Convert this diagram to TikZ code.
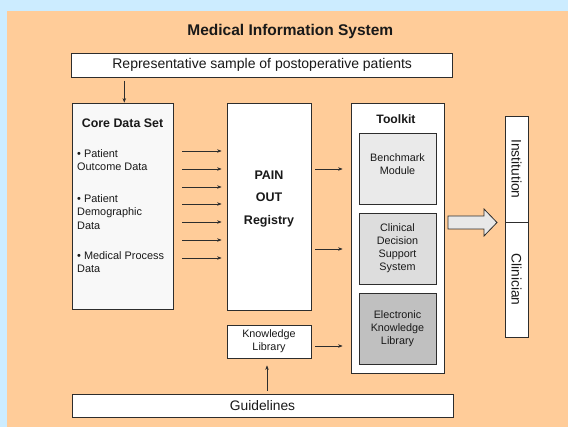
\documentclass[tikz,border=0pt]{standalone}
\usepackage{fontspec}
\setmainfont{Liberation Sans}
\usetikzlibrary{arrows.meta}
\definecolor{bgblue}{RGB}{204,236,255}
\definecolor{panel}{RGB}{255,204,153}
\definecolor{edge}{RGB}{45,45,45}
\definecolor{txt}{RGB}{25,25,25}
\definecolor{coregray}{RGB}{248,248,248}
\definecolor{benchgray}{RGB}{234,234,234}
\definecolor{clingray}{RGB}{221,221,221}
\definecolor{ekgray}{RGB}{192,192,192}
\definecolor{arrowfill}{RGB}{232,232,232}
\begin{document}
\begin{tikzpicture}[x=1pt,y=-1pt,
  box/.style={draw=edge, line width=0.8pt, fill=white, inner sep=0pt, rectangle},
  arr/.style={-{Stealth[length=4.5pt,width=3.5pt]}, line width=0.6pt, draw=edge},
  small/.style={font=\fontsize{10.8}{13}\selectfont, text=txt, align=center, inner sep=0pt},
  bullet/.style={font=\fontsize{10.9}{13.5}\selectfont, text=txt, align=left, inner sep=0pt, anchor=north west},
  big/.style={font=\fontsize{13.8}{16}\selectfont, text=txt, inner sep=0pt}]
\fill[bgblue] (0,0) rectangle (568,427);
\fill[panel] (7,11) rectangle (568,427);
\useasboundingbox (0,0) rectangle (568,427);

% title
\node[font=\bfseries\fontsize{15.5}{18}\selectfont, text=txt, inner sep=0pt] (title) at (290.3,31) {Medical Information System};

% top and bottom bars
\node[box, minimum width=381pt, minimum height=24pt] (rep) at (262.2,65.3) {};
\node[font=\fontsize{14}{16}\selectfont, text=txt, inner sep=0pt] at (rep.center) {Representative sample of postoperative patients};
\node[box, minimum width=381pt, minimum height=23pt] (guide) at (262.5,405.5) {};
\node[big] at (guide.center) {Guidelines};

% core data set
\node[box, fill=coregray, minimum width=101pt, minimum height=206pt] (core) at (122.5,206) {};
\node[font=\bfseries\fontsize{12.4}{14}\selectfont, text=txt, inner sep=0pt] at (122.5,123) {Core Data Set};
\node[bullet] at (77,149) {• Patient\\Outcome Data};
\node[bullet] at (77,194) {• Patient\\Demographic\\Data};
\node[bullet] at (77,251) {• Medical Process\\Data};

% registry
\node[box, minimum width=84pt, minimum height=207pt] (reg) at (269,206.5) {};
\node[font=\bfseries\fontsize{12.5}{22.5}\selectfont, text=txt, inner sep=0pt, align=center] at (269,199) {PAIN\\OUT\\Registry};

% knowledge library
\node[box, minimum width=84pt, minimum height=33pt] (kl) at (269,341.5) {};
\node[small] at (kl.center) {Knowledge\\Library};

% toolkit
\node[box, minimum width=93pt, minimum height=270pt] (tool) at (397.5,238) {};
\node[font=\bfseries\fontsize{12.2}{14}\selectfont, text=txt, inner sep=0pt] at (396,119) {Toolkit};
\node[box, fill=benchgray, minimum width=77pt, minimum height=71pt] (bench) at (397.5,168.5) {};
\node[small] at (397.5,164.5) {Benchmark\\Module};
\node[box, fill=clingray, minimum width=77pt, minimum height=71pt] (cdss) at (397.5,248.5) {};
\node[small] at (cdss.center) {Clinical\\Decision\\Support\\System};
\node[box, fill=ekgray, minimum width=77pt, minimum height=71pt] (ekl) at (397.5,328.5) {};
\node[small] at (ekl.center) {Electronic\\Knowledge\\Library};

% institution / clinician
\node[box, minimum width=23pt, minimum height=106pt] (inst) at (516.5,169) {};
\node[big, rotate=-90] at (inst.center) {Institution};
\node[box, minimum width=23pt, minimum height=115pt] (clin) at (516.5,279.5) {};
\node[big, rotate=-90] at (clin.center) {Clinician};

% connectors
\draw[arr, shorten <=3pt] (rep.south -| 124.3,0) -- (core.north -| 124.3,0);
\foreach \yy in {151,169,187,204,222,240,258}
  \draw[arr, shorten <=9pt, shorten >=5pt] (core.east |- 0,\yy) -- (reg.west |- 0,\yy);
\foreach \yy in {169,249}
  \draw[arr, shorten <=4pt, shorten >=8pt] (reg.east |- 0,\yy) -- (tool.west |- 0,\yy);
\draw[arr, shorten <=4pt, shorten >=8pt] (kl.east |- 0,346) -- (tool.west |- 0,346);
\draw[arr, shorten <=3pt, shorten >=7pt] (guide.north -| 267,0) -- (kl.south -| 267,0);

% block arrow
\draw[draw=edge, line width=0.8pt, fill=arrowfill]
  (448,216) -- (484,216) -- (484,209) -- (497,222.5) -- (484,236) -- (484,229) -- (448,229) -- cycle;
\end{tikzpicture}
\end{document}
